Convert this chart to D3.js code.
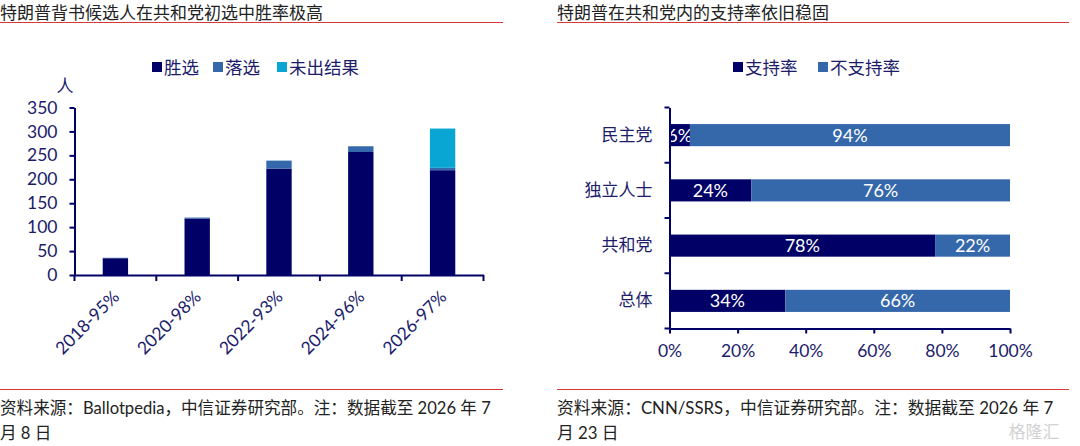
<!DOCTYPE html>
<html>
<head>
<meta charset="utf-8">
<script src="https://cdn.jsdelivr.net/npm/d3@7"></script>
<style>
  body { margin: 0; background: #fff; }
  svg { display: block; font-family: Lato, "Noto Sans CJK SC", sans-serif; }
</style>
</head>
<body>
<div id="chart"></div>
<script>
// left chart: Trump-endorsed candidates in GOP primaries
var years = ["2018-95%", "2020-98%", "2022-93%", "2024-96%", "2026-97%"];
var won = [35, 118, 222, 257, 219];
var lost = [1, 2, 17, 12, 5];
var pending = [0, 0, 0, 0, 82];
var leftKeys = ["胜选", "落选", "未出结果"];
var yTicks = [0, 50, 100, 150, 200, 250, 300, 350];

// right chart: support within parties
var groups = ["民主党", "独立人士", "共和党", "总体"];
var support = [6, 24, 78, 34];
var against = [94, 76, 22, 66];
var rightKeys = ["支持率", "不支持率"];
var xTicks = [0, 20, 40, 60, 80, 100];

var navy = "#000066", blue = "#3567ab", cyan = "#0aa6d3";
var txt = "#1c1c6b";
var cjk = "'Noto Sans CJK SC', sans-serif";

var svg = d3.select("#chart").append("svg")
    .attr("width", 1080)
    .attr("height", 446);

// headers and footers
function frame(x0, x1, title, foot1, foot2, fs) {
    svg.append("text").attr("x", x0).attr("y", 19)
        .attr("font-size", 17).attr("fill", "#222")
        .attr("font-family", cjk)
        .text(title);
    svg.append("line").attr("x1", x0).attr("x2", x1)
        .attr("y1", 22.5).attr("y2", 22.5)
        .attr("stroke", "#d9383a").attr("stroke-width", 1);
    svg.append("line").attr("x1", x0).attr("x2", x1)
        .attr("y1", 389.5).attr("y2", 389.5)
        .attr("stroke", "#d9383a").attr("stroke-width", 1);
    svg.append("text").attr("x", x0).attr("y", 414)
        .attr("font-size", fs).attr("fill", "#222").text(foot1);
    svg.append("text").attr("x", x0).attr("y", 439)
        .attr("font-size", fs).attr("fill", "#222").text(foot2);
}
frame(0, 503, "特朗普背书候选人在共和党初选中胜率极高",
    "资料来源：Ballotpedia，中信证券研究部。注：数据截至 2026 年 7", "月 8 日", 16.6);
frame(557, 1069, "特朗普在共和党内的支持率依旧稳固",
    "资料来源：CNN/SSRS，中信证券研究部。注：数据截至 2026 年 7", "月 23 日", 16.8);

// watermark
svg.append("text").attr("x", 1034).attr("y", 438)
    .attr("text-anchor", "middle").attr("font-size", 17)
    .attr("fill", "#d2d2d2").attr("font-family", cjk)
    .text("格隆汇");

// legends
function legend(items, colors, xs, y) {
    items.forEach(function(d, i) {
        svg.append("rect").attr("x", xs[i]).attr("y", y - 5)
            .attr("width", 10).attr("height", 10).attr("fill", colors[i]);
        svg.append("text").attr("x", xs[i] + 12).attr("y", y + 6.5)
            .attr("font-size", 17.5).attr("fill", txt)
            .attr("font-family", cjk)
            .text(d);
    });
}
legend(leftKeys, [navy, blue, cyan], [152, 213, 277], 67);
legend(rightKeys, [navy, blue], [733, 818], 67);

// ---- left: stacked columns ----
var x = d3.scaleBand().domain(years).range([74.5, 483.5]).padding(0);
var y = d3.scaleLinear().domain([0, 350]).range([275, 107.5]);

var leftRows = years.map(function(c, i) {
    return { cat: c, "胜选": won[i], "落选": lost[i], "未出结果": pending[i] };
});
var leftStack = d3.stack().keys(leftKeys)(leftRows);
var leftColors = d3.scaleOrdinal().domain(leftKeys).range([navy, blue, cyan]);
var bw = x.bandwidth() * 0.31;

svg.append("g").selectAll("g").data(leftStack).join("g")
    .attr("fill", function(d) { return leftColors(d.key); })
    .selectAll("rect").data(function(d) { return d; }).join("rect")
    .attr("x", function(d) { return x(d.data.cat) + (x.bandwidth() - bw) / 2; })
    .attr("width", bw)
    .attr("y", function(d) { return y(d[1]); })
    .attr("height", function(d) { return y(d[0]) - y(d[1]); });

var yAxis = svg.append("g").attr("transform", "translate(74.5,0)")
    .call(d3.axisLeft(y).tickValues(yTicks).tickSize(5).tickSizeOuter(0));
yAxis.select(".domain").attr("stroke", navy).attr("stroke-width", 2);
yAxis.selectAll(".tick line").attr("stroke", navy).attr("stroke-width", 2);
yAxis.selectAll(".tick text").attr("x", -17).attr("fill", txt)
    .attr("font-size", 17.5).attr("font-family", "Lato, sans-serif");

svg.append("text").attr("x", 65).attr("y", 92)
    .attr("text-anchor", "middle").attr("font-size", 17).attr("fill", txt)
    .attr("font-family", cjk).text("人");

var xAxis = svg.append("g").attr("transform", "translate(0,275)")
    .call(d3.axisBottom(x).tickSize(0).tickSizeOuter(0));
xAxis.select(".domain").attr("stroke", navy).attr("stroke-width", 2);
xAxis.selectAll(".tick text")
    .attr("font-size", 17.5).attr("fill", txt).attr("font-family", "Lato, sans-serif")
    .attr("text-anchor", "end").attr("dy", 0).attr("y", 0)
    .attr("transform", "translate(5,23) rotate(-45)");
// boundary ticks
xAxis.append("g").selectAll("line")
    .data(years.concat(["end"])).join("line")
    .attr("x1", function(d, i) { return 74.5 + i * x.bandwidth(); })
    .attr("x2", function(d, i) { return 74.5 + i * x.bandwidth(); })
    .attr("y1", 0).attr("y2", 6)
    .attr("stroke", navy).attr("stroke-width", 2);

// ---- right: 100% stacked bars ----
var xr = d3.scaleLinear().domain([0, 100]).range([669.5, 1010]);
var yr = d3.scaleBand().domain(groups).range([107.5, 328.5]).padding(0);

var rightRows = groups.map(function(g, i) {
    return { cat: g, "支持率": support[i], "不支持率": against[i] };
});
var rightStack = d3.stack().keys(rightKeys)(rightRows);
var rightColors = d3.scaleOrdinal().domain(rightKeys).range([navy, blue]);
var bh = yr.bandwidth() * 0.4;

var seg = svg.append("g").selectAll("g").data(rightStack).join("g")
    .attr("fill", function(d) { return rightColors(d.key); });
seg.selectAll("rect").data(function(d) { return d; }).join("rect")
    .attr("x", function(d) { return xr(d[0]); })
    .attr("width", function(d) { return xr(d[1]) - xr(d[0]); })
    .attr("y", function(d) { return yr(d.data.cat) + (yr.bandwidth() - bh) / 2; })
    .attr("height", bh);
seg.selectAll("text").data(function(d) { return d; }).join("text")
    .attr("x", function(d) { return (xr(d[0]) + xr(d[1])) / 2; })
    .attr("y", function(d) { return yr(d.data.cat) + yr.bandwidth() / 2 + 6.5; })
    .attr("text-anchor", "middle").attr("font-size", 18).attr("fill", "#fff")
    .attr("font-family", "Lato, sans-serif")
    .text(function(d) { return (d[1] - d[0]) + "%"; });

var yrAxis = svg.append("g").attr("transform", "translate(669.5,0)")
    .call(d3.axisLeft(yr).tickSize(0).tickSizeOuter(0));
yrAxis.select(".domain").attr("stroke", navy).attr("stroke-width", 2);
yrAxis.selectAll(".tick text").attr("x", -17).attr("fill", txt)
    .attr("font-size", 17).attr("font-family", cjk);
yrAxis.append("g").selectAll("line")
    .data(groups.concat(["end"])).join("line")
    .attr("x1", -5).attr("x2", 0)
    .attr("y1", function(d, i) { return 107.5 + i * yr.bandwidth(); })
    .attr("y2", function(d, i) { return 107.5 + i * yr.bandwidth(); })
    .attr("stroke", navy).attr("stroke-width", 2);

var xrAxis = svg.append("g").attr("transform", "translate(0,328.5)")
    .call(d3.axisBottom(xr).tickValues(xTicks).tickSize(5).tickSizeOuter(0)
        .tickFormat(function(d) { return d + "%"; }));
xrAxis.select(".domain").attr("stroke", navy).attr("stroke-width", 2);
xrAxis.selectAll(".tick line").attr("stroke", navy).attr("stroke-width", 2);
xrAxis.selectAll(".tick text").attr("y", 16).attr("fill", txt)
    .attr("font-size", 17.5).attr("font-family", "Lato, sans-serif");
</script>
</body>
</html>
